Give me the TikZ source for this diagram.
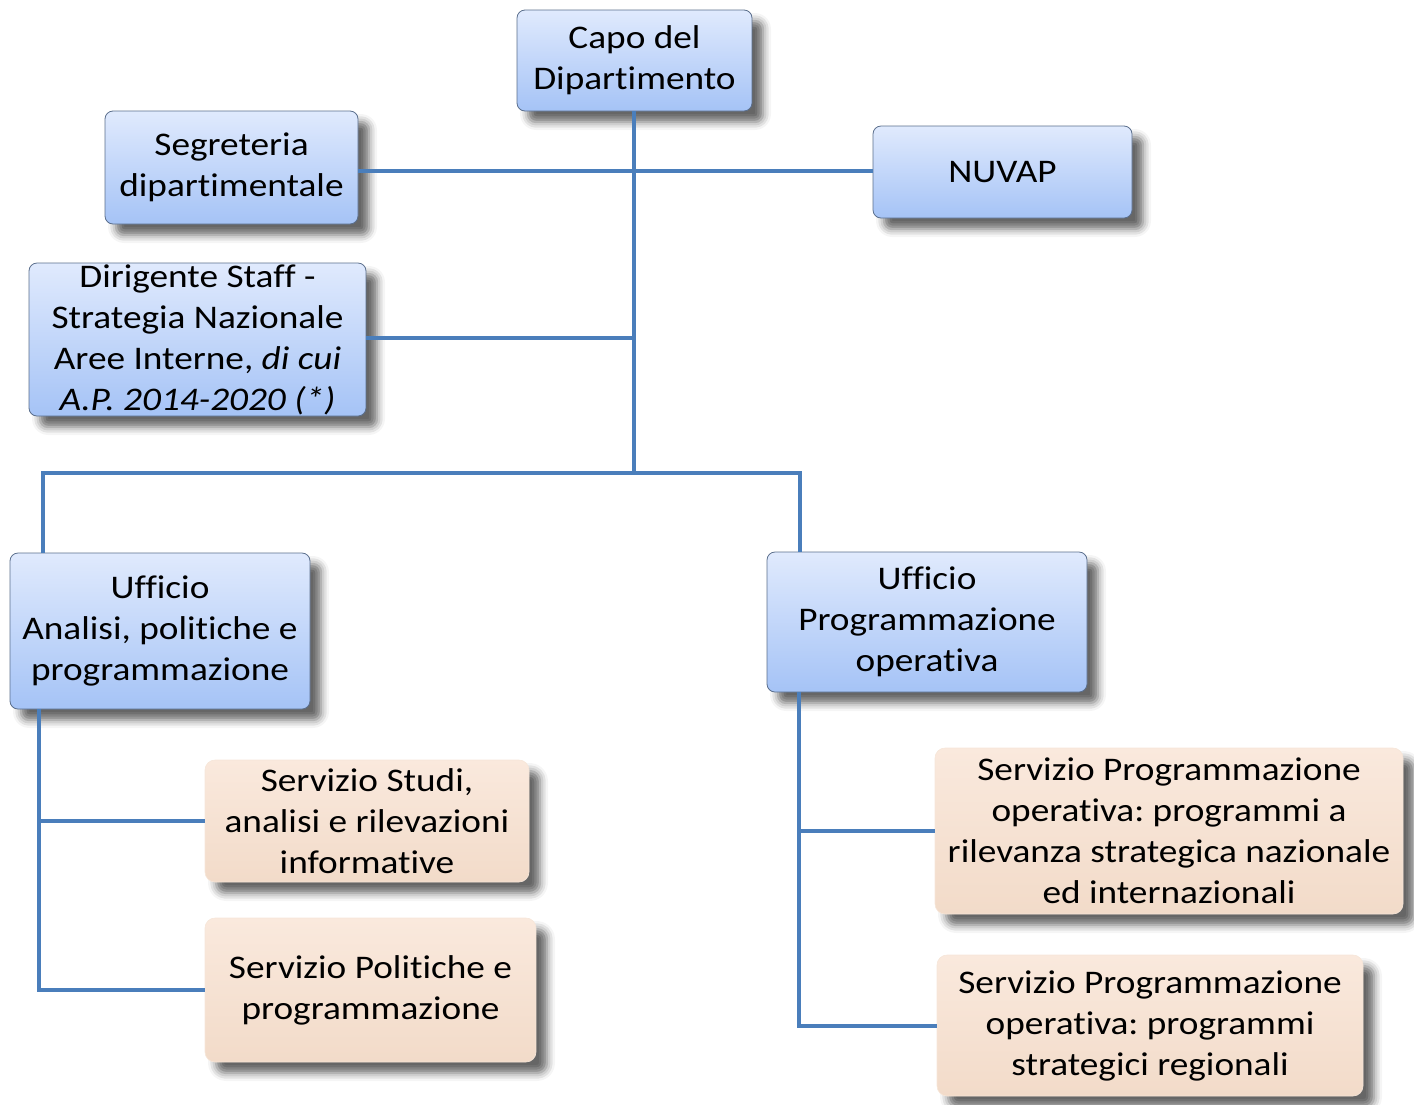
\documentclass[tikz,border=0pt]{standalone}
\usepackage{fontspec}
\setmainfont[FakeStretch=1.13,Ligatures=NoCommon]{Carlito}
\frenchspacing
\usetikzlibrary{positioning,shadows,shadows.blur}
\definecolor{linkblue}{HTML}{4A7EBB}
\definecolor{boxtop}{HTML}{E0EAFD}
\definecolor{boxbot}{HTML}{A5C3F6}
\definecolor{boxline}{HTML}{5A6E8C}
\definecolor{sandtop}{HTML}{FAE9DD}
\definecolor{sandbot}{HTML}{F2DBC9}

\begin{document}
\begin{tikzpicture}[x=1pt,y=-1pt,
	every node/.style={inner sep=0pt,align=center,font=\fontsize{33}{41}\selectfont},
	office/.style={rounded corners=8pt,draw=boxline,line width=0.8pt,top color=boxtop,bottom color=boxbot,
		blur shadow={shadow xshift=11pt,shadow yshift=-11pt,shadow blur radius=8pt,shadow opacity=60}},
	service/.style={rounded corners=10pt,draw=sandbot!70,line width=0.6pt,top color=sandtop,bottom color=sandbot,
		blur shadow={shadow xshift=11pt,shadow yshift=-11pt,shadow blur radius=8pt,shadow opacity=60}},
	link/.style={linkblue,line width=4pt}]
	\useasboundingbox (0,0) rectangle (1414,1104);
	\node[office,minimum width=235pt,minimum height=101pt] (capo) at (634.5,60.5) {Capo del\\Dipartimento};
	\node[office,minimum width=253pt,minimum height=113pt] (segr) at (231.5,167.5) {Segreteria\\dipartimentale};
	\node[office,minimum width=259pt,minimum height=92pt] (nuvap) at (1002.5,172) {NUVAP};
	\node[office,minimum width=337pt,minimum height=153pt] (staff) at (197.5,339.5) {Dirigente Staff -\\Strategia Nazionale\\Aree Interne, \textit{di cui}\\\textit{A.P. 2014-2020 (*)}};
	\node[office,minimum width=300pt,minimum height=156pt] (analisi) at (160,631) {Ufficio\\Analisi, politiche e\\programmazione};
	\node[office,minimum width=320pt,minimum height=140pt] (progop) at (927,622) {Ufficio\\Programmazione\\operativa};
	\node[service,minimum width=324pt,minimum height=122pt] (studi) at (367,821) {Servizio Studi,\\analisi e rilevazioni\\informative};
	\node[service,minimum width=331pt,minimum height=144pt] (polit) at (370.5,990) {Servizio Politiche e\\programmazione};
	\node[service,minimum width=468pt,minimum height=166pt] (nazion) at (1169,831) {Servizio Programmazione\\operativa: programmi a\\rilevanza strategica nazionale\\ed internazionali};
	\node[service,minimum width=426pt,minimum height=141pt] (region) at (1150,1025.5) {Servizio Programmazione\\operativa: programmi\\strategici regionali};

	\coordinate (split) at (634,473);
	\coordinate (lbar) at (43,473);
	\coordinate (rbar) at (800,473);
	\coordinate (lstem) at (39,709);
	\coordinate (rstem) at (799,692);

	\draw[link] (capo.south -| split) -- (split);
	\draw[link] (segr.east |- 0,171) -- (nuvap.west |- 0,171);
	\draw[link] (staff.east |- 0,338) -- (split |- 0,338);
	\draw[link] (analisi.north -| lbar) -- (lbar) -- (rbar) -- (progop.north -| rbar);
	\draw[link] (lstem) |- (polit.west);
	\draw[link] (lstem |- studi.west) -- (studi.west);
	\draw[link] (rstem) |- (region.west);
	\draw[link] (rstem |- nazion.west) -- (nazion.west);
\end{tikzpicture}
\end{document}
